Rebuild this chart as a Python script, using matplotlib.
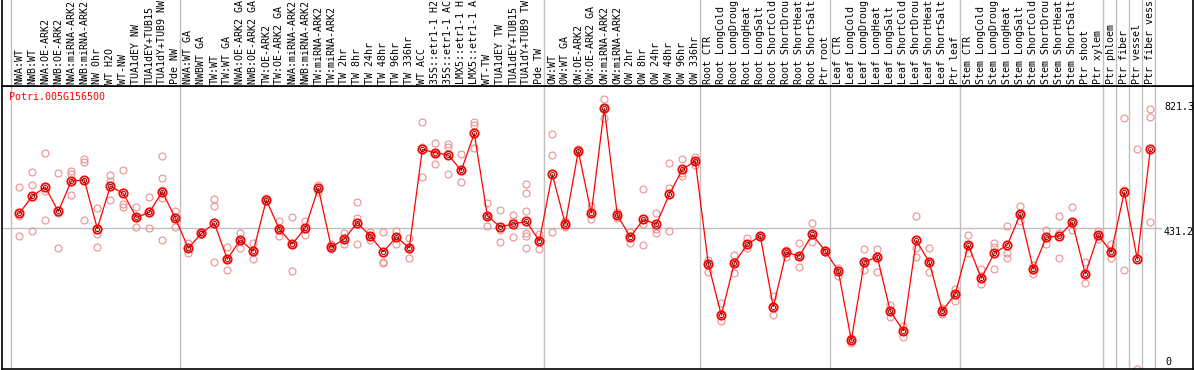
import numpy as np
import matplotlib
matplotlib.use("Agg")
import matplotlib.pyplot as plt

W, H = 1194, 370

labels = [
    "NWA:WT", "NWB:WT", "NWA:OE-ARK2", "NWB:OE-ARK2", "NWA:miRNA-ARK2", "NWB:miRNA-ARK2",
    "NW 0hr", "WT H2O", "WT-NW", "TUA1dEY NW", "TUA1dEY+TUB15", "TUA1dY+TUB9 NW", "Pde NW",
    "NWA:WT GA", "NWBWT GA", "TW:WT", "TW:WT GA", "NWA:OE-ARK2 GA", "NWB:OE-ARK2 GA",
    "TW:OE-ARK2", "TW:OE-ARK2 GA", "NWA:miRNA-ARK2", "NWB:miRNA-ARK2", "TW:miRNA-ARK2",
    "TW:miRNA-ARK2", "TW 2hr", "TW 8hr", "TW 24hr", "TW 48hr", "TW 96hr", "TW 336hr",
    "WT ACC", "35S::etr1-1 H2", "35S::etr1-1 AC", "LMX5::etr1-1 H", "LMX5::etr1-1 A",
    "WT-TW", "TUA1dEY TW", "TUA1dEY+TUB15", "TUA1dY+TUB9 TW", "Pde TW",
    "OW:WT", "OW:WT GA", "OW:OE-ARK2", "OW:OE-ARK2 GA", "OW:miRNA-ARK2", "OW:miRNA-ARK2",
    "OW 2hr", "OW 8hr", "OW 24hr", "OW 48hr", "OW 96hr", "OW 336hr",
    "Root CTR", "Root LongCold", "Root LongDroug", "Root LongHeat", "Root LongSalt",
    "Root ShortCold", "Root ShortDrou", "Root ShortHeat", "Root ShortSalt", "Ptr root",
    "Leaf CTR", "Leaf LongCold", "Leaf LongDroug", "Leaf LongHeat", "Leaf LongSalt",
    "Leaf ShortCold", "Leaf ShortDrou", "Leaf ShortHeat", "Leaf ShortSalt", "Ptr leaf",
    "Stem CTR", "Stem LongCold", "Stem LongDroug", "Stem LongHeat", "Stem LongSalt",
    "Stem ShortCold", "Stem ShortDrou", "Stem ShortHeat", "Stem ShortSalt", "Ptr shoot",
    "Ptr xylem", "Ptr phloem", "Ptr fiber", "Ptr vessel", "Ptr fiber vess",
]

# index of last sample in each group (separator drawn after it)
group_ends = [-1, 12, 40, 52, 62, 72, 83, 84, 85, 86, 87]

means = [
    474, 527, 554, 480, 573, 576, 428, 557, 535, 462, 477, 540, 460,
    368, 413, 444, 335, 393, 359, 515, 426, 381, 430, 551, 371, 396, 446, 405,
    357, 402, 369, 669, 659, 652, 605, 718, 467, 433, 442, 450, 390,
    593, 442, 664, 475, 794, 469, 402, 456, 441, 532, 608, 634,
    320, 164, 323, 380, 405, 190, 356, 344, 410, 359,
    299, 88, 326, 342, 176, 117, 392, 325, 177, 229,
    377, 276, 353, 378, 472, 305, 402, 405, 447, 290,
    408, 356, 539, 335, 669,
]

reps = [
    [554, 466, 405], [599, 560, 420], [657, 542, 454], [596, 368, 476],
    [603, 594, 529], [640, 632, 454], [490, 410, 371], [591, 574, 514],
    [605, 502, 493], [494, 432, 462], [523, 482, 429], [649, 581, 545, 520, 393],
    [481, 434, 462],
    [383, 352, 368], [418, 410, 412], [518, 497, 325], [371, 302, 335],
    [413, 370, 393], [383, 334, 359], [520, 512, 513], [451, 406, 426],
    [463, 299, 381], [451, 407, 430], [561, 540, 551], [381, 365, 371],
    [413, 381, 396], [509, 459, 381], [416, 393, 405], [416, 327, 323],
    [421, 382, 402], [398, 337, 369], [752, 676, 586], [688, 625, 659],
    [687, 678, 594], [654, 569, 605], [752, 744, 672], [505, 435, 467],
    [485, 424, 386], [468, 452, 402], [563, 537, 482, 413, 406, 368],
    [411, 365, 390],
    [715, 651, 416], [452, 434, 442], [670, 657, 664], [497, 456, 475],
    [821.3, 764, 794], [479, 459, 469], [418, 383, 402], [549, 442, 378],
    [474, 426, 415], [627, 551, 420], [639, 596, 588], [647, 622, 634],
    [332, 296, 320], [200, 147, 164], [346, 293, 323], [398, 370, 380],
    [405, 402, 408], [222, 164, 190], [363, 342, 356], [383, 310, 344],
    [444, 388, 410], [359, 356, 362],
    [309, 283, 299], [93, 80, 88], [365, 302, 326], [366, 296, 342],
    [195, 159, 176], [131, 97, 117], [466, 368, 342], [368, 295, 325],
    [185, 168, 177], [245, 208, 229],
    [408, 352, 377], [304, 258, 276], [383, 373, 304], [436, 355, 337],
    [496, 452, 472], [317, 288, 305], [424, 380, 402], [465, 413, 337],
    [494, 424, 447], [326, 263, 290],
    [422, 395, 408], [381, 337, 356], [764, 545, 301], [669, 0], [792, 767, 448],
]

gene = "Potri.005G156500"
ymax = 821.3
assert len(labels) == len(means) == len(reps) == 88

mono = "DejaVu Sans Mono"
fs = 7.2
grid_c = "#c0c0c0"
rep_c = "#e99090"

fig = plt.figure(figsize=(W / 100, H / 100), dpi=100)

x0 = (2 - 19.3) / 13
x1 = (1193 - 19.3) / 13
top_px = 86

# main plot area
ax = fig.add_axes([2 / W, 1 / H, 1191 / W, (H - top_px - 1) / H])
ax.set_xlim(x0, x1)
ax.set_ylim(0, ymax * 1.05)
ax.set_xticks([])
ax.set_yticks([])
for s in ax.spines.values():
    s.set_color("black")
    s.set_linewidth(1.2)

# header with sample names
axh = fig.add_axes([2 / W, (H - top_px) / H, 1191 / W, top_px / H])
axh.set_xlim(x0, x1)
axh.set_ylim(0, top_px)
axh.set_xticks([])
axh.set_yticks([])
axh.spines["top"].set_visible(False)
axh.spines["bottom"].set_linewidth(1.2)
for k in ("left", "right"):
    axh.spines[k].set_linewidth(1.2)

for g in group_ends:
    ax.axvline(g + 0.36, color=grid_c, lw=1, zorder=0)
    axh.axvline(g + 0.36, color=grid_c, lw=1, zorder=0)

ax.axhline(ymax * 1.05 / 2, xmin=0, xmax=(1161 - 2) / 1191, color=grid_c, lw=1, zorder=0)

xs = np.arange(len(means))
for i, r in enumerate(reps):
    ax.plot([i] * len(r), r, "o", ms=5, mfc="none", mec=rep_c, mew=0.8, zorder=2, clip_on=False)

ax.plot(xs, means, "-", color="red", lw=0.9, zorder=3)
ax.plot(xs, means, "o", ms=6, mfc="none", mec="red", mew=1.3, zorder=4)
ax.plot(xs, means, "o", ms=3, mfc="none", mec="#600000", mew=0.6, zorder=5)

for i, lab in enumerate(labels):
    axh.text(i, 2, lab, rotation=90, ha="center", va="bottom",
             family=mono, fontsize=fs, color="black")

fig.text(9.5 / W, 1 - 97 / H, gene, color="red", family=mono, fontsize=fs, va="center")
fig.text(1164 / W, 1 - 107 / H, f"{ymax:.1f}", family=mono, fontsize=fs, va="center")
fig.text(1164 / W, 1 - 232 / H, f"{ymax * 1.05 / 2:.1f}", family=mono, fontsize=fs, va="center")
fig.text(1165 / W, 1 - 362 / H, "0", family=mono, fontsize=fs, va="center")

fig.savefig("out.png", dpi=100)
